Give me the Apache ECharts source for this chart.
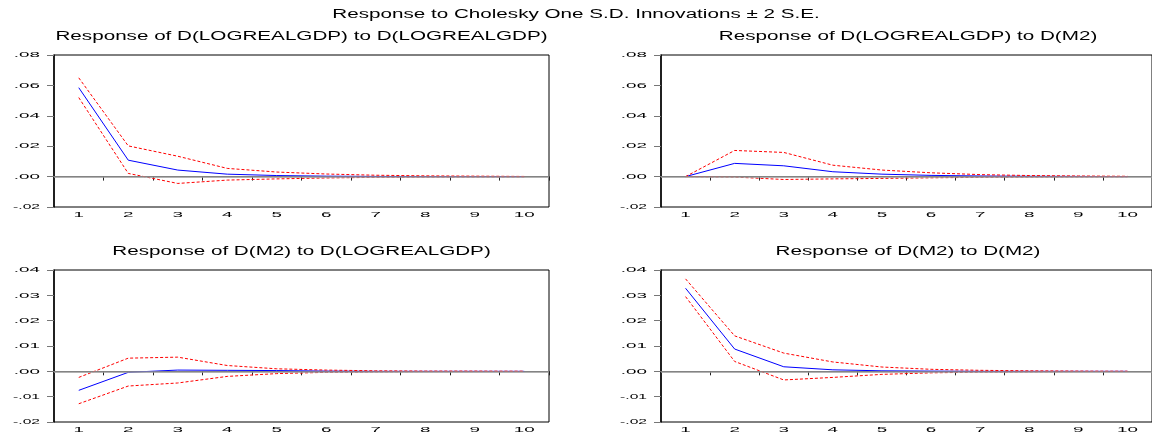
<!DOCTYPE html>
<html>
<head>
<meta charset="utf-8">
<script src="https://cdn.jsdelivr.net/npm/echarts@6/dist/echarts.min.js"></script>
<style>
html,body{margin:0;padding:0;background:#fff;}
#c{width:1152px;height:437px;}
</style>
</head>
<body>
<div id="c"></div>
<script>
// ---------------- data ----------------
const categories = ['1', '2', '3', '4', '5', '6', '7', '8', '9', '10'];

const mainTitle = 'Response to Cholesky One S.D. Innovations \u00B1 2 S.E.';
const panelTitles = [
  'Response of D(LOGREALGDP) to D(LOGREALGDP)',
  'Response of D(LOGREALGDP) to D(M2)',
  'Response of D(M2) to D(LOGREALGDP)',
  'Response of D(M2) to D(M2)'
];

// Panel 1: D(LOGREALGDP) -> D(LOGREALGDP)
const gdpGdpResp  = [0.0585, 0.0108, 0.0043, 0.0016, 0.0007, 0.0003, 0.0001, 0.0000, 0.0000, 0.0000];
const gdpGdpUpper = [0.0650, 0.0202, 0.0134, 0.0054, 0.0030, 0.0017, 0.0009, 0.0005, 0.0003, 0.0001];
const gdpGdpLower = [0.0520, 0.0021, -0.0045, -0.0023, -0.0015, -0.0009, -0.0005, -0.0003, -0.0002, -0.0001];

// Panel 2: D(LOGREALGDP) <- D(M2)
const gdpM2Resp  = [0.0000, 0.0087, 0.0071, 0.0032, 0.0016, 0.0008, 0.0004, 0.0002, 0.0001, 0.0000];
const gdpM2Upper = [0.0000, 0.0172, 0.0159, 0.0075, 0.0043, 0.0025, 0.0013, 0.0007, 0.0004, 0.0002];
const gdpM2Lower = [0.0000, -0.0003, -0.0019, -0.0015, -0.0012, -0.0008, -0.0005, -0.0003, -0.0002, -0.0001];

// Panel 3: D(M2) <- D(LOGREALGDP)
const m2GdpResp  = [-0.0075, -0.0004, 0.0005, 0.0004, 0.0003, 0.0001, 0.0000, 0.0000, 0.0000, 0.0000];
const m2GdpUpper = [-0.0024, 0.0052, 0.0056, 0.0023, 0.0010, 0.0005, 0.0002, 0.0001, 0.0001, 0.0000];
const m2GdpLower = [-0.0128, -0.0058, -0.0046, -0.0020, -0.0009, -0.0004, -0.0002, -0.0001, -0.0001, 0.0000];

// Panel 4: D(M2) <- D(M2)
const m2M2Resp  = [0.0328, 0.0088, 0.0018, 0.0006, 0.0002, 0.0001, 0.0000, 0.0000, 0.0000, 0.0000];
const m2M2Upper = [0.0365, 0.0140, 0.0072, 0.0037, 0.0017, 0.0008, 0.0004, 0.0002, 0.0001, 0.0000];
const m2M2Lower = [0.0295, 0.0039, -0.0034, -0.0024, -0.0012, -0.0006, -0.0003, -0.0002, -0.0001, 0.0000];

// y-axis ranges (min, max, interval) for top and bottom rows
const yRangeTop = [-0.02, 0.08, 0.02];
const yRangeBottom = [-0.02, 0.04, 0.01];

// -------------- stretched text (reference glyphs are horizontally stretched) --------------
(function () {
  const P = CanvasRenderingContext2D.prototype;
  const origFill = P.fillText, origStroke = P.strokeText;
  function factor(ctx, t) {
    const m = /(\d+(?:\.\d+)?)px/.exec(ctx.font);
    if (!m) return 1;
    const s = parseFloat(m[1]);
    if (s === 8) return (String(t).charAt(0) === '-') ? 1.95 : 2.35;
    if (s === 12) return 1.72;
    return 1;
  }
  P.fillText = function (t, x, y) {
    const k = factor(this, t);
    if (k === 1) return origFill.apply(this, arguments);
    this.save(); this.translate(x, y); this.scale(k, 1);
    origFill.call(this, t, 0, 0);
    this.restore();
  };
  P.strokeText = function (t, x, y) {
    const k = factor(this, t);
    if (k === 1) return origStroke.apply(this, arguments);
    this.save(); this.translate(x, y); this.scale(k, 1);
    origStroke.call(this, t, 0, 0);
    this.restore();
  };
})();

// ---------------- chart ----------------
const FONT = 'Liberation Sans';
const panels = [
  { resp: gdpGdpResp, up: gdpGdpUpper, lo: gdpGdpLower, range: yRangeTop, grid: { left: 54, top: 55, width: 495, height: 152 } },
  { resp: gdpM2Resp, up: gdpM2Upper, lo: gdpM2Lower, range: yRangeTop, grid: { left: 661, top: 55, width: 494, height: 152 } },
  { resp: m2GdpResp, up: m2GdpUpper, lo: m2GdpLower, range: yRangeBottom, grid: { left: 54, top: 270, width: 495, height: 152 } },
  { resp: m2M2Resp, up: m2M2Upper, lo: m2M2Lower, range: yRangeBottom, grid: { left: 661, top: 270, width: 494, height: 152 } }
];

function fmt(v) {
  const s = Math.abs(v) < 1e-9 ? '0.00' : v.toFixed(2);
  return s.replace('0.', '.');
}

const titleStyle = { fontSize: 12, fontWeight: 'normal', color: '#000', fontFamily: FONT };
const titles = [
  { text: mainTitle, left: 576, top: 14.5, textAlign: 'center', textVerticalAlign: 'middle', padding: 0, textStyle: titleStyle }
];
const subCenters = [[301.5, 36.5], [908, 36.5], [301.5, 252], [908, 252]];
panelTitles.forEach((t, i) => {
  titles.push({ text: t, left: subCenters[i][0], top: subCenters[i][1], textAlign: 'center', textVerticalAlign: 'middle', padding: 0, textStyle: titleStyle });
});

const grids = [], xAxes = [], yAxes = [], series = [];
panels.forEach((p, i) => {
  grids.push(Object.assign({ show: true, borderColor: '#000', borderWidth: 1, backgroundColor: 'transparent', containLabel: false }, p.grid));
  xAxes.push({
    type: 'category', gridIndex: i, data: categories, boundaryGap: true,
    axisLine: { lineStyle: { color: '#444', width: 1 } },
    axisTick: { show: true, inside: false, length: 4, alignWithLabel: false, interval: 0, lineStyle: { color: '#222' } },
    axisLabel: { interval: 0, margin: 4, fontSize: 8, color: '#000', fontFamily: FONT },
    splitLine: { show: false }
  });
  yAxes.push({
    type: 'value', gridIndex: i, min: p.range[0], max: p.range[1], interval: p.range[2],
    axisLine: { show: true, lineStyle: { color: '#000', width: 1.5 } },
    axisTick: { show: true, inside: false, length: 7, lineStyle: { color: '#777' } },
    axisLabel: { margin: 14, fontSize: 8, color: '#000', fontFamily: FONT, formatter: fmt },
    splitLine: { show: false }
  });
  // zero reference line
  series.push({
    type: 'line', xAxisIndex: i, yAxisIndex: i, data: [], z: 1, silent: true,
    markLine: { silent: true, symbol: ['none', 'none'], label: { show: false },
      lineStyle: { color: '#999', width: 1.6, type: 'solid' }, data: [{ yAxis: 0 }], animation: false }
  });
  series.push({
    type: 'line', xAxisIndex: i, yAxisIndex: i, data: p.resp, z: 3, symbol: 'none',
    lineStyle: { color: '#0000ff', width: 1 }, silent: true
  });
  [p.up, p.lo].forEach(d => {
    series.push({
      type: 'line', xAxisIndex: i, yAxisIndex: i, data: d, z: 4, symbol: 'none',
      lineStyle: { color: '#ff0000', width: 1, type: [3, 2] }, silent: true
    });
  });
});

const chart = echarts.init(document.getElementById('c'), null, { renderer: 'canvas', devicePixelRatio: 1 });
chart.setOption({
  animation: false,
  backgroundColor: '#fff',
  title: titles,
  grid: grids,
  xAxis: xAxes,
  yAxis: yAxes,
  series: series
});
</script>
</body>
</html>
